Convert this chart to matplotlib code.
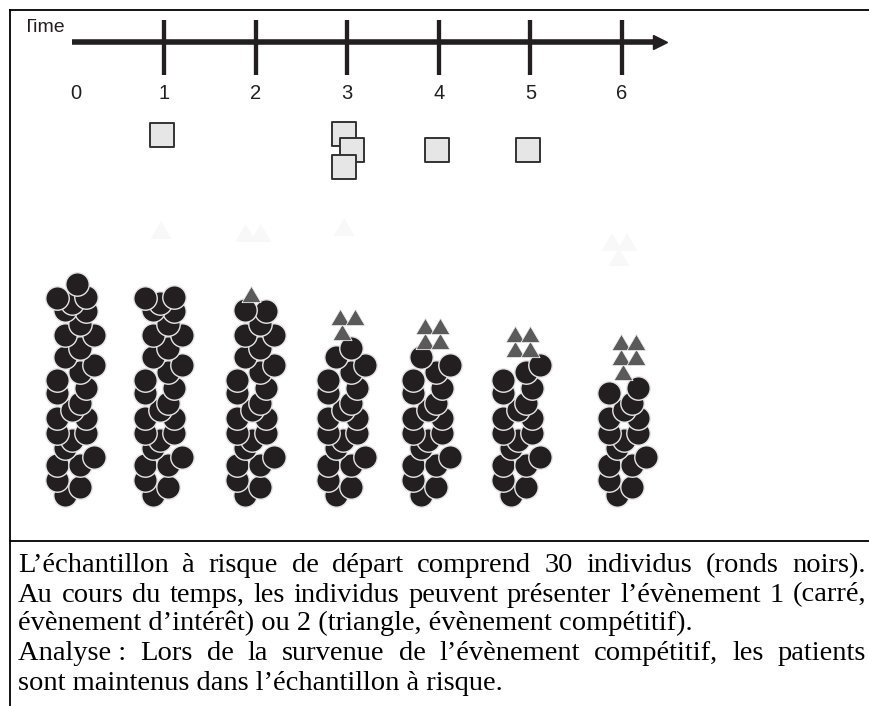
import matplotlib
matplotlib.use("Agg")
import matplotlib.pyplot as plt
from matplotlib.markers import MarkerStyle
from matplotlib.patches import Rectangle
import numpy as np

# ---------------- data ----------------
times = [0, 1, 2, 3, 4, 5, 6]
time_labels = ["0", "1", "2", "3", "4", "5", "6"]
axis_title = "Time"
n_circles = [30, 29, 26, 21, 20, 19, 16]      # black circles (at risk) per time
n_event1 = [0, 1, 0, 3, 1, 1, 0]               # squares: event of interest
n_event2 = [0, 0, 1, 3, 4, 4, 5]               # grey triangles: competing event
n_faded = [0, 1, 2, 1, 0, 0, 3]                # very faint triangles
caption_lines = [
    "L\u2019échantillon à risque de départ comprend 30 individus (ronds noirs).",
    "Au cours du temps, les individus peuvent présenter l\u2019évènement 1 (carré,",
    "évènement d\u2019intérêt) ou 2 (triangle, évènement compétitif).",
    "Analyse\u00a0: Lors de la survenue de l\u2019évènement compétitif, les patients",
    "sont maintenus dans l\u2019échantillon à risque.",
]
caption_justify = [True, True, False, True, False]

# ---------------- layout ----------------
W, H = 869, 706
PX_T0, PX_PER_T = 72.4, 91.6
ink = "#231f20"
col_shift_px = [4, 0, 0, 0, -7, -8, 6]
sq_center_y = [150, 135, 150, 150, 150, 150, 150]
faded_base_y = [0, 230, 233, 227, 0, 0, 257]
# cluster pattern of circles: (dx px, y px)
pattern = [(-11, 495), (4, 487), (-19, 480), (-19, 465), (4, 465), (18, 457), (-11, 448), (-4, 440),
           (-19, 433), (10, 433), (-19, 418), (10, 418), (-4, 410), (4, 403), (-19, 393), (10, 388),
           (-19, 380), (18, 365), (4, 372), (-11, 357), (4, 348), (-11, 335), (18, 335), (4, 324),
           (-11, 310), (10, 311), (-19, 298), (10, 297), (-4, 303), (1, 284)]
pattern = sorted(pattern, key=lambda p: -p[1])

fig = plt.figure(figsize=(W / 100, H / 100), dpi=100)
pax = fig.add_axes([0, 0, 1, 1])
pax.set_xlim(0, W); pax.set_ylim(H, 0); pax.axis("off")
ax = fig.add_axes([0, 0, 1, 1])
ax.set_xlim(-PX_T0 / PX_PER_T, (W - PX_T0) / PX_PER_T); ax.set_ylim(H, 0); ax.axis("off")

def px(dx):
    return dx / PX_PER_T

# frame
pax.plot([10, 10], [10, H], color="black", lw=1.3)
pax.plot([10, W], [10, 10], color="black", lw=1.3)
pax.plot([10, W], [541, 541], color="black", lw=1.3)

# time axis
arrow_end = times[-1] + 0.42
ax.plot([times[0], arrow_end], [42, 42], color=ink, lw=4, solid_capstyle="butt", zorder=2)
ax.plot([arrow_end], [42], marker=">", ms=10.5, color=ink, mec=ink, zorder=2)
ax.vlines(times[1:], 20, 75, color=ink, lw=3.1)
for t, lab in zip(times, time_labels):
    ax.text(t + px(3 if t == 0 else 0), 99, lab, ha="center", va="baseline",
            fontsize=14.5, family="Liberation Sans", color=ink)
tt = pax.text(23, 32, axis_title, ha="left", va="baseline", fontsize=14,
              family="Liberation Sans", color=ink, clip_on=True)
tt.set_clip_path(Rectangle((27.5, 0), 200, 80, transform=pax.transData))
tt.set_clip_on(True)

# triangle marker
tri = MarkerStyle([(-1, -0.85), (1, -0.85), (0, 0.85), (-1, -0.85)])

for i, t in enumerate(times):
    cx = t + px(col_shift_px[i])
    pts = pattern[:n_circles[i]]
    xs = [cx + px(dx) for dx, y in pts]
    ys = [y for dx, y in pts]
    ax.scatter(xs, ys, s=285, c=ink, edgecolors="#e6e6e6", linewidths=1.0, zorder=3)
    top_y = min(ys)

    # competing-event triangles, rows of two, remainder at bottom
    k = n_event2[i]
    if k:
        txs, tys = [], []
        rows = int(np.ceil(k / 2))
        rem = k % 2
        for j in range(rows):
            yrow = top_y - 16 - 15 * j
            if j == 0 and rem:
                txs.append(cx + px(-5)); tys.append(yrow)
            else:
                txs += [cx + px(-7), cx + px(8)]; tys += [yrow, yrow]
        ax.scatter(txs, tys, s=190, marker=tri, c="#5a5a5a", edgecolors="#f0f0f0",
                   linewidths=0.6, zorder=4)

    # faint triangles
    k = n_faded[i]
    if k:
        fxs, fys = [], []
        rem = k % 2
        rows = int(np.ceil(k / 2))
        for j in range(rows):
            yrow = faded_base_y[i] - 15 * j
            if j == 0 and rem:
                fxs.append(t + px(-3)); fys.append(yrow)
            else:
                fxs += [t + px(-10), t + px(5)]; fys += [yrow, yrow]
        ax.scatter(fxs, fys, s=230, marker=tri, c="#f8f8f8", edgecolors="none", zorder=1)

    # event of interest squares
    k = n_event1[i]
    if k:
        sy0 = sq_center_y[i] - 16.5 * (k - 1) / 2
        for j in range(k):
            dx = -3 if j % 2 == 0 else 5
            if k == 1:
                dx = -2
            ax.scatter([t + px(dx)], [sy0 + 16.5 * j], s=275, marker="s", c="#e6e6e6",
                       edgecolors="#333333", linewidths=1.4, zorder=5 + j)

# caption
fig.canvas.draw()
r = fig.canvas.get_renderer()
SER = "Liberation Serif"
x0, x1 = 18, 866
avail = x1 - x0

def wpx(s, fs):
    t = pax.text(0, 300, s, fontsize=fs, family=SER)
    w = t.get_window_extent(r).width
    t.remove()
    return w

fs = 20.5
while fs > 10 and max(wpx(l, fs) for l, j in zip(caption_lines, caption_justify) if j) > avail - 2:
    fs -= 0.25

baselines = [572, 601.5, 630.5, 660, 690]
for line, just, yb in zip(caption_lines, caption_justify, baselines):
    if just:
        words = line.split(" ")
        ws = [wpx(w, fs) for w in words]
        gap = (avail - sum(ws)) / (len(words) - 1)
        x = x0
        for w, wd in zip(words, ws):
            pax.text(x, yb, w, fontsize=fs, family=SER, ha="left", va="baseline", color="black")
            x += wd + gap
    else:
        pax.text(x0, yb, line, fontsize=fs, family=SER, ha="left", va="baseline", color="black")

fig.savefig("out.png", dpi=100)
